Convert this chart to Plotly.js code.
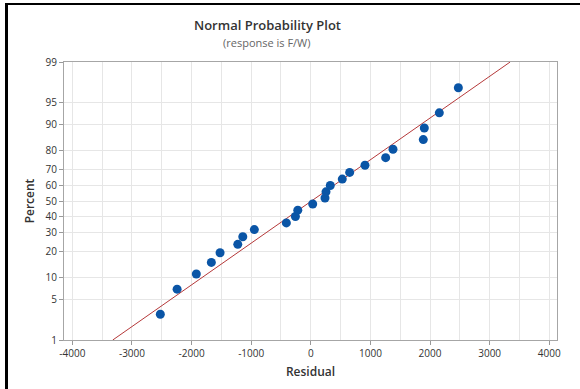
<!DOCTYPE html>
<html>
<head>
<meta charset="utf-8">
<script src="https://cdn.plot.ly/plotly-3.0.1.min.js"></script>
<style>
  html, body { margin: 0; padding: 0; background: #fff; }
  #wrap { position: relative; width: 580px; height: 389px; overflow: hidden; }
  #chart { position: absolute; left: 0; top: 0; width: 580px; height: 389px; }
  #frame { position: absolute; left: 5px; top: 3px; width: 600px; height: 400px;
           border-left: 3px solid #000; border-top: 2.5px solid #000; pointer-events: none; }
</style>
</head>
<body>
<div id="wrap">
  <div id="chart"></div>
  <div id="frame"></div>
</div>
<script>
// ---- data ----
const residuals = [-2524, -2243, -1920, -1668, -1522, -1225, -1141, -947, -410, -258, -218, 32,
                   238, 255, 327, 528, 652, 909, 1256, 1379, 1887, 1904, 2156, 2475];
const percents  = [2.9, 7.0, 11.1, 15.2, 19.3, 23.4, 27.5, 31.6, 35.7, 39.8, 43.9, 48.0,
                   52.0, 56.1, 60.2, 64.3, 68.4, 72.5, 76.6, 80.7, 84.8, 88.9, 93.0, 97.1];
const fitLineResidual = [-3322, 3344];
const fitLinePercent  = [1, 99];
const yTickPercents = [1, 5, 10, 20, 30, 40, 50, 60, 70, 80, 90, 95, 99];
const yTickLabels   = ["1", "5", "10", "20", "30", "40", "50", "60", "70", "80", "90", "95", "99"];
const xTickVals   = [-4000, -3000, -2000, -1000, 0, 1000, 2000, 3000, 4000];
const xTickLabels = ["-4000", "-3000", "-2000", "-1000", "0", "1000", "2000", "3000", "4000"];

// inverse normal CDF (Acklam) to map percent onto the probability scale
function normInv(p) {
  const a = [-3.969683028665376e+01, 2.209460984245205e+02, -2.759285104469687e+02,
             1.383577518672690e+02, -3.066479806614716e+01, 2.506628277459239e+00];
  const b = [-5.447609879822406e+01, 1.615858368580409e+02, -1.556989798598866e+02,
             6.680131188771972e+01, -1.328068155288572e+01];
  const c = [-7.784894002430293e-03, -3.223964580411365e-01, -2.400758277161838e+00,
             -2.549732539343734e+00, 4.374664141464968e+00, 2.938163982698783e+00];
  const d = [7.784695709041462e-03, 3.224671290700398e-01, 2.445134137142996e+00,
             3.754408661907416e+00];
  const plow = 0.02425, phigh = 1 - plow;
  let q, r;
  if (p < plow) {
    q = Math.sqrt(-2 * Math.log(p));
    return (((((c[0]*q+c[1])*q+c[2])*q+c[3])*q+c[4])*q+c[5]) /
           ((((d[0]*q+d[1])*q+d[2])*q+d[3])*q+1);
  } else if (p <= phigh) {
    q = p - 0.5; r = q*q;
    return (((((a[0]*r+a[1])*r+a[2])*r+a[3])*r+a[4])*r+a[5])*q /
           (((((b[0]*r+b[1])*r+b[2])*r+b[3])*r+b[4])*r+1);
  } else {
    q = Math.sqrt(-2 * Math.log(1 - p));
    return -(((((c[0]*q+c[1])*q+c[2])*q+c[3])*q+c[4])*q+c[5]) /
            ((((d[0]*q+d[1])*q+d[2])*q+d[3])*q+1);
  }
}
const z = pc => normInv(pc / 100);

const FONT = '"Open Sans", "Noto Sans", sans-serif';
const traces = [
  {
    x: fitLineResidual, y: fitLinePercent.map(z),
    mode: 'lines', type: 'scatter',
    line: { color: '#b5393a', width: 1 },
    hoverinfo: 'skip', showlegend: false
  },
  {
    x: residuals, y: percents.map(z),
    mode: 'markers', type: 'scatter',
    marker: { color: '#0a55a6', size: 9 },
    showlegend: false
  }
];

const layout = {
  width: 580, height: 389,
  margin: { l: 64, r: 23, t: 62, b: 49 },
  paper_bgcolor: 'rgba(0,0,0,0)',
  plot_bgcolor: '#ffffff',
  font: { family: FONT, color: '#333' },
  showlegend: false,
  xaxis: {
    range: [-4140, 4130],
    tickvals: xTickVals, ticktext: xTickLabels,
    ticks: 'outside', ticklen: 4, tickcolor: '#999', tickwidth: 1,
    tickfont: { size: 10, color: '#333', family: FONT },
    showgrid: true, gridcolor: '#e6e6e6', gridwidth: 1,
    minor: { dtick: 500, tick0: 0, showgrid: true, gridcolor: '#e6e6e6', gridwidth: 1, ticks: '' },
    showline: true, linecolor: '#a6a6a6', linewidth: 1, mirror: true,
    zeroline: false,
    title: { text: 'Residual', font: { size: 12, color: '#333', family: FONT, weight: 600 }, standoff: 8 }
  },
  yaxis: {
    range: [z(1), z(99)],
    tickvals: yTickPercents.map(z), ticktext: yTickLabels,
    ticks: 'outside', ticklen: 4, tickcolor: '#999', tickwidth: 1,
    tickfont: { size: 10, color: '#333', family: FONT },
    showgrid: true, gridcolor: '#e6e6e6', gridwidth: 1,
    showline: true, linecolor: '#a6a6a6', linewidth: 1, mirror: true,
    zeroline: false,
    title: { text: 'Percent', font: { size: 12, color: '#333', family: FONT, weight: 600 }, standoff: 8 }
  },
  annotations: [
    { text: 'Normal Probability Plot', xref: 'paper', yref: 'paper',
      x: (267 - 64) / 493, y: 1 + (62 - 25) / 278, xanchor: 'center', yanchor: 'middle',
      showarrow: false, font: { size: 13, color: '#333', family: FONT, weight: 600 } },
    { text: '(response is F/W)', xref: 'paper', yref: 'paper',
      x: (267 - 64) / 493, y: 1 + (62 - 42) / 278, xanchor: 'center', yanchor: 'middle',
      showarrow: false, font: { size: 11, color: '#666', family: FONT } }
  ]
};

Plotly.newPlot('chart', traces, layout, { displayModeBar: false, staticPlot: true });
</script>
</body>
</html>
